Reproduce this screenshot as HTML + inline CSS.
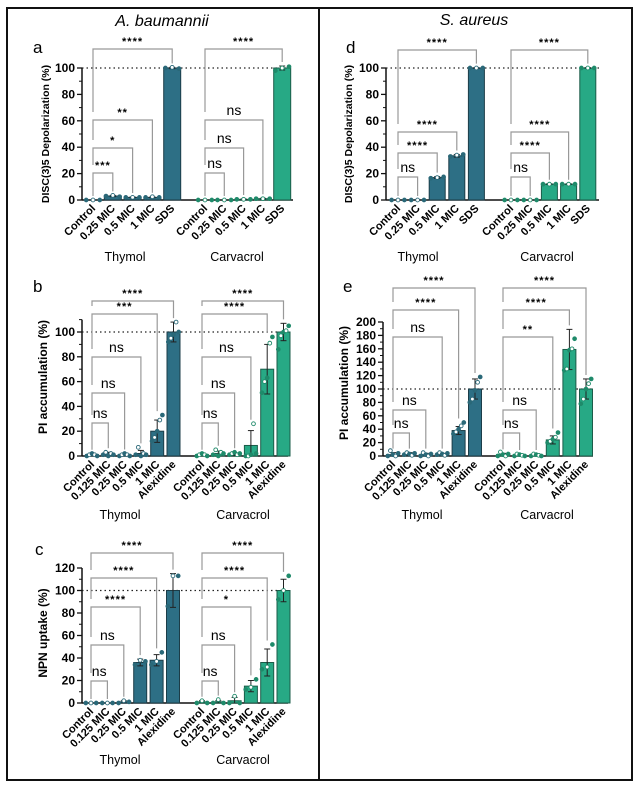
<!DOCTYPE html>
<html><head><meta charset="utf-8"><style>
html,body{margin:0;padding:0;background:#fff}
svg{display:block;font-family:"Liberation Sans",sans-serif}
</style></head><body>
<svg id="fig" width="639" height="786" viewBox="0 0 639 786" xmlns="http://www.w3.org/2000/svg">
<rect x="7" y="8" width="625" height="772" fill="none" stroke="#111" stroke-width="2"/>
<line x1="319" y1="8" x2="319" y2="780" stroke="#111" stroke-width="2"/>
<text x="162" y="26" font-size="16" font-style="italic" text-anchor="middle">A. baumannii</text>
<text x="474" y="25" font-size="16" font-style="italic" text-anchor="middle">S. aureus</text>
</svg>
<script>
// ---- data ----
const catsDisc = ['Control','0.25 MIC','0.5 MIC','1 MIC','SDS'];
const catsPI = ['Control','0.125 MIC','0.25 MIC','0.5 MIC','1 MIC','Alexidine'];
const groups = ['Thymol','Carvacrol'];

const aThymol = [0,3,2,2,100];      const aThymolErr = [0,0.5,0.3,0.3,0.5];
const aCarv = [0,0,0.5,1,100];      const aCarvErr = [0,0,0.3,0.3,1.5];
const aThymolPts = [[0,0,0],[3,3.5,2.5],[2,2,2],[2,2.5,2],[100,100.5,99.5]];
const aCarvPts = [[0,0,0],[0,0,0],[0.5,0.5,0.5],[1,1,1],[98,100,101]];
const aStars = [['****',4],['**',3],['*',2],['***',1]];
const aStarsC = [['****',4],['ns',3],['ns',2],['ns',1]];

const dThymol = [0,0,17,33.5,100];  const dThymolErr = [0,0,0.7,1,0.3];
const dCarv = [0,0,12,12,100];      const dCarvErr = [0,0,0.3,0.3,0.3];
const dThymolPts = [[0,0,0],[0,0,0],[16.5,17,17.5],[33,34,34.5],[100,100,100]];
const dCarvPts = [[0,0,0],[0,0,0],[12,12,12],[12,12,12],[100,100,100]];
const dStars = [['****',4],['****',3],['****',2],['ns',1]];
const dStarsC = [['****',4],['****',3],['****',2],['ns',1]];

const bThymol = [1,1.5,1,2,20,100]; const bThymolErr = [0.8,1.5,1,2.5,9,8];
const bCarv = [1,2,1.5,8.5,70,100]; const bCarvErr = [0.8,2,1,12,20,7];
const bThymolPts = [[0,1,2,1,0],[1,3,0,2,1],[0,1,2,1,0],[1,7,0,2,1],[12,15,20,29,33],[92,95,98,108,100]];
const bCarvPts = [[0,1,2,1,0],[1,5,0,3,2],[1,2,3,1,2],[0,0,1,26,2],[51,60,63,91,96],[86,97,100,101,105]];
const bStars = [['****',5],['***',4],['ns',3],['ns',2],['ns',1]];
const bStarsC = [['****',5],['****',4],['ns',3],['ns',2],['ns',1]];

const eThymol = [2,3,2,3,38,100];   const eThymolErr = [3,2,2,1,6,15];
const eCarv = [2,1.5,1.5,24,159,100]; const eCarvErr = [2,1,1,6,30,15];
const eThymolPts = [[0,8,2,0,4],[2,5,3,1,4],[0,5,2,0,3],[2,5,3,1,4],[33,36,40,45,50],[80,85,98,110,118]];
const eCarvPts = [[0,6,2,0,3],[0,3,2,1,0],[0,3,2,1,0],[20,22,25,28,35],[128,130,158,160,175],[78,85,100,108,115]];
const eStars = [['****',5],['****',4],['ns',3],['ns',2],['ns',1]];
const eStarsC = [['****',5],['****',4],['**',3],['ns',2],['ns',1]];

const cThymol = [0,0,1,36,38,100];  const cThymolErr = [0,0,1,3,5,15];
const cCarv = [1,1,2,15,36,100];    const cCarvErr = [1,1,3,5,12,10];
const cThymolPts = [[0,0,0],[0,0,0],[0,2,1],[34,38,37],[34,37,45],[86,113,113]];
const cCarvPts = [[0,2,0],[0,3,0],[0,6,0],[12,14,21],[30,32,52],[92,100,113]];
const cStars = [['****',5],['****',4],['****',3],['ns',2],['ns',1]];
const cStarsC = [['****',5],['****',4],['*',3],['ns',2],['ns',1]];

// ---- drawing ----
const NS='http://www.w3.org/2000/svg';
const svg=document.getElementById('fig');
function mk(tag,attrs,parent,txt){const e=document.createElementNS(NS,tag);for(const k in attrs)e.setAttribute(k,attrs[k]);if(txt!==undefined)e.textContent=txt;(parent||svg).appendChild(e);return e;}

const COL=[{fill:'#2d6f85',stroke:'#1c3d48',dot:'#2a6878'},{fill:'#27a985',stroke:'#1b5c49',dot:'#1f8a6a'}];

function panel(p){
  const g=mk('g',{});
  
  
  const y=v=>p.y0-v*p.scale;
  const xAt=(gi,i)=>p.gx[gi]+i*p.step[gi];
  const lt=mk('text',{x:p.letter[0],y:p.letter[1],'font-size':17},g,p.letterTxt);
  
  
  const ax=mk('line',{x1:p.ax,y1:y(p.ymax),x2:p.ax,y2:p.y0,stroke:'#111','stroke-width':1.5},g);
  
  
  const xa=mk('line',{x1:p.ax,y1:p.y0,x2:p.axEnd,y2:p.y0,stroke:'#111','stroke-width':1.5},g);
  
  
  for(let v=0;v<=p.ymax;v+=p.tick){
    mk('line',{x1:p.ax-5,y1:y(v),x2:p.ax,y2:y(v),stroke:'#111','stroke-width':1.3},g);
    const t=mk('text',{x:p.ax-7,y:y(v)+4,'font-size':p.tickSize||12,'font-weight':'bold','text-anchor':'end'},g,String(v));
    
    
    if(v+p.tick/2<=p.ymax) mk('line',{x1:p.ax-3,y1:y(v+p.tick/2),x2:p.ax,y2:y(v+p.tick/2),stroke:'#111','stroke-width':1},g);
  }
  const yl=mk('text',{x:p.ylab[0],y:p.ylab[1],'font-size':p.ylabSize,'font-weight':'bold','text-anchor':'middle',transform:`rotate(-90 ${p.ylab[0]} ${p.ylab[1]})`},g,p.ylabTxt);
  
  
  const rl=mk('line',{x1:p.ax,y1:y(100),x2:p.axEnd,y2:y(100),stroke:'#222','stroke-width':1.2,'stroke-dasharray':'1.5,3'},g);
  
  
  p.series.forEach((s,gi)=>{
    const c=COL[gi];
    s.vals.forEach((v,i)=>{
      const x=xAt(gi,i);
      const b=mk('rect',{x:x-p.bw/2,y:y(v),width:p.bw,height:Math.max(0,p.y0-y(v)),fill:c.fill,stroke:c.stroke,'stroke-width':1},g);
      
      
      const e=s.err[i];
      if(e>0){
        mk('line',{x1:x,y1:y(v+e),x2:x,y2:y(Math.max(0,v-e)),stroke:'#222','stroke-width':1},g);
        mk('line',{x1:x-3,y1:y(v+e),x2:x+3,y2:y(v+e),stroke:'#222','stroke-width':1},g);
        if(v-e>0) mk('line',{x1:x-3,y1:y(v-e),x2:x+3,y2:y(v-e),stroke:'#222','stroke-width':1},g);
      }
      const pts=s.pts[i];
      pts.forEach((pv,k)=>{
        const off=(k-(pts.length-1)/2)*(p.bw*0.8/Math.max(1,pts.length-1));
        const d=mk('circle',{cx:x+off,cy:y(pv),r:1.9,fill:(k%2?'#fff':c.dot),stroke:c.dot,'stroke-width':0.9},g);
        
        
      });
      const lab=mk('text',{x:x+3,y:p.y0+9,'font-size':11,'font-weight':'bold','text-anchor':'end',transform:`rotate(-45 ${x+3} ${p.y0+9})`},g,p.cats[i]);
      
      
    });
    const gl=mk('text',{x:p.glab[gi],y:p.glabY,'font-size':12.5,'text-anchor':'middle'},g,groups[gi]);
    
    
    s.stars.forEach((st,k)=>{
      const yb=p.brY[k];
      const x0=xAt(gi,0), x1=xAt(gi,st[1]);
      const nextY=k+1<p.brY.length?p.brY[k+1]-8:y(s.vals[0]+s.err[0])-4;
      const topV=s.vals[st[1]]+s.err[st[1]];
      const maxPt=Math.max(...s.pts[st[1]],topV);
      const rEnd=Math.min(y(maxPt)-4,p.y0-4);
      const br=mk('path',{d:`M${x0},${nextY}V${yb}H${x1}V${rEnd}`,fill:'none',stroke:'#999','stroke-width':1.2},g);
      
      
      const isNs=st[0]==='ns';
      const tt=mk('text',{x:(x0+x1)/2,y:isNs?yb-5:yb-4,'font-size':isNs?14:11,'font-weight':isNs?'normal':'bold','text-anchor':'middle','letter-spacing':isNs?0:1},g,st[0]);
      
      
    });
  });
}

panel({name:'panel-a',letterTxt:'a',letter:[33,53],ax:82,axEnd:293,y0:200,scale:1.32,ymax:100,tick:20,bw:17,
  gx:[93,205],step:[19.8,19.3],cats:catsDisc,ylab:[49,134],ylabSize:10.5,ylabTxt:'DISC(3)5 Depolarization (%)',
  glab:[125,237],glabY:261,brY:[49,120,148,173],
  series:[{vals:aThymol,err:aThymolErr,pts:aThymolPts,stars:aStars},{vals:aCarv,err:aCarvErr,pts:aCarvPts,stars:aStarsC}]});
panel({name:'panel-d',letterTxt:'d',letter:[346,53],ax:386,axEnd:599,y0:200,scale:1.32,ymax:100,tick:20,bw:16,
  gx:[398,511],step:[19.6,19.2],cats:catsDisc,ylab:[352,134],ylabSize:10.5,ylabTxt:'DISC(3)5 Depolarization (%)',
  glab:[418,547],glabY:261,brY:[50,132,153,177],
  series:[{vals:dThymol,err:dThymolErr,pts:dThymolPts,stars:dStars},{vals:dCarv,err:dCarvErr,pts:dCarvPts,stars:dStarsC}]});
panel({name:'panel-b',letterTxt:'b',letter:[33,292],ax:82,axEnd:288,y0:456,scale:1.24,ymax:110,tick:20,bw:13,
  gx:[92,202],step:[16.3,16.3],cats:catsPI,ylab:[47,377],ylabSize:12,ylabTxt:'PI accumulation (%)',
  glab:[120,243],glabY:519,brY:[301,314,357,393,423],
  series:[{vals:bThymol,err:bThymolErr,pts:bThymolPts,stars:bStars},{vals:bCarv,err:bCarvErr,pts:bCarvPts,stars:bStarsC}]});
panel({name:'panel-e',letterTxt:'e',letter:[343,292],ax:383,axEnd:593,y0:456,scale:0.67,ymax:200,tick:20,bw:13,
  gx:[393,503],step:[16.4,16.6],cats:catsPI,ylab:[348,383],ylabSize:12,ylabTxt:'PI accumulation (%)',
  glab:[422,547],glabY:519,brY:[288,310,337,410,433],
  series:[{vals:eThymol,err:eThymolErr,pts:eThymolPts,stars:eStars},{vals:eCarv,err:eCarvErr,pts:eCarvPts,stars:eStarsC}]});
panel({name:'panel-c',letterTxt:'c',letter:[35,555],ax:82,axEnd:288,y0:703,scale:1.125,ymax:120,tick:20,bw:13,
  gx:[91,202],step:[16.4,16.3],cats:catsPI,ylab:[47,633],ylabSize:12,ylabTxt:'NPN uptake (%)',
  glab:[120,243],glabY:764,brY:[553,578,607,645,681],
  series:[{vals:cThymol,err:cThymolErr,pts:cThymolPts,stars:cStars},{vals:cCarv,err:cCarvErr,pts:cCarvPts,stars:cStarsC}]});
</script>
</body></html>
